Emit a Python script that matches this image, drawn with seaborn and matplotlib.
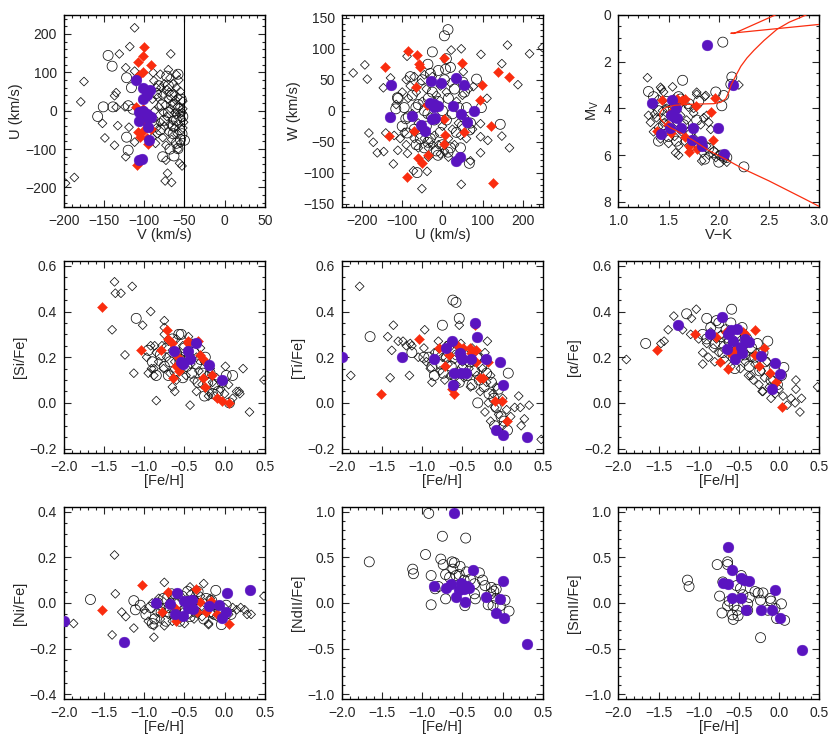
import numpy as np
import pandas as pd
import matplotlib
matplotlib.use("Agg")
import matplotlib.pyplot as plt
import seaborn as sns
from matplotlib.ticker import MultipleLocator, AutoMinorLocator

# ---------------- data ----------------
# panel 1: V vs U (km/s)
uv_diam = [(-112,216),(-118,167),(-131,148),(-67,148),(-123,112),(-112,103),(-89,99),(-70,107),(-60,94),
           (-175,76),(-179,23),(-135,47),(-137,39),(-198,-189),(-187,-174),(-152,-33),(-149,-71),(-137,-90),
           (-133,-39),(-123,-120),(-119,-43),(-112,-82),(-73,-129),(-71,-163),(-74,-183),(-66,-187),(-56,-137),
           (-53,-144),(-135,9),(-124,10),
           (-88,78),(-85,60),(-80,95),(-78,40),(-75,70),(-72,55),(-70,30),(-68,85),(-65,20),(-63,45),(-60,60),
           (-58,35),(-56,10),(-55,50),(-53,-5),(-52,25),(-54,-20),(-57,-35),(-60,-10),(-62,-45),(-65,-25),
           (-67,5),(-70,-55),(-72,-15),(-75,-40),(-77,-70),(-80,-30),(-82,10),(-84,-60),(-86,-85),(-88,-20),
           (-90,30),(-73,-90),(-66,-75),(-59,-60),(-55,-85),(-52,-45),(-58,-100),(-62,-5),(-68,-35),(-74,15),
           (-79,60),(-85,-45),(-90,-70),(-64,70),(-57,80),(-52,5),(-51,-30),(-56,-8),(-61,28),(-69,48),
           (-76,-5),(-83,35),(-87,0)]
uv_circ = [(-145,144),(-140,116),(-122,86),(-116,60),(-151,10),(-158,-15),(-139,10),(-120,13),(-122,-69),
           (-120,-103),(-114,4),(-77,-120),(-63,-118),(-58,-99),(-50,-77),
           (-85,45),(-78,15),(-72,90),(-70,-5),(-66,40),(-64,-60),(-62,15),(-60,-25),(-58,95),(-56,-50),
           (-54,30),(-52,-15),(-55,-75),(-60,-85),(-68,-100),(-75,-25),(-80,-50),(-82,65),(-88,-35),(-70,65),
           (-64,-40),(-58,5),(-53,-60)]
uv_red = [(-100,167),(-102,142),(-108,126),(-92,120),(-102,100),(-106,94),(-110,9),(-102,4),(-108,-56),
          (-102,-52),(-105,-69),(-97,-70),(-91,-47),(-95,-86),(-109,-142),(-104,-20),(-99,-30)]
uv_pur = [(-110,80),(-102,60),(-97,52),(-93,53),(-101,30),(-97,41),(-102,0),(-106,-4),(-97,-9),(-91,-17),
          (-95,-19),(-106,-26),(-95,-43),(-94,-76),(-106,-129),(-103,-127)]

# panel 2: U vs W (km/s)
uw_diam = [(-222,61),(-193,74),(-187,51),(-129,53),(-147,37),(-88,88),(-183,-36),(-172,-51),(-162,-68),
           (-146,-66),(-141,-36),(-122,-86),(-111,-64),(-87,-69),(-72,-97),(-38,-98),(-51,-126),(47,-119),
           (70,-81),(95,-68),(113,-48),(148,-41),(167,-60),(95,-42),(95,-21),(162,106),(217,92),(249,102),
           (188,42),(148,76),(96,91),(47,100),(22,98),(111,20),(-45,58),(52,63),(77,39),
           (-100,30),(-90,50),(-85,20),(-80,40),(-75,-5),(-70,55),(-65,30),(-60,-20),(-55,45),(-50,15),
           (-45,-45),(-40,35),(-35,-60),(-30,-10),(-25,55),(-20,-40),(-15,25),(-10,-55),(-5,40),(0,-25),
           (5,-65),(10,30),(15,-45),(20,45),(25,-30),(30,-55),(35,15),(40,-20),(45,-40),(50,25),(55,-10),
           (60,-45),(-95,-35),(-105,-45),(-90,-55),(-70,-45),(-60,-60),(-50,-30),(-5,-70),(15,-75),
           (-120,-40),(-115,10),(65,35),(75,-30),(-35,-75),(-25,-55)]
uw_circ = [(14,131),(5,121),(-25,95),(10,84),(-36,75),(8,67),(85,51),(51,46),(-112,21),(-116,3),(-66,5),
           (-91,-13),(-36,-5),(97,5),(144,-22),(68,-31),(67,-85),(-63,-100),(-88,-36),(-36,-51),(14,-67),
           (-11,-72),
           (-110,20),(-95,5),(-85,-10),(-75,25),(-70,-30),(-60,10),(-55,-45),(-50,50),(-45,0),(-40,-25),
           (-35,20),(-30,-45),(-25,30),(-20,-15),(-15,-65),(-10,15),(-5,-35),(0,0),(5,50),(10,-15),(15,20),
           (20,-60),(25,-5),(30,35),(35,-35),(40,5),(45,-60),(50,-25),(55,30),(60,5),(-65,-55),(-45,-60),
           (-30,60),(0,-55),(20,70),(-10,65),(70,-20),(-80,55),(-100,-25)]
uw_red = [(-86,97),(-62,90),(-58,76),(-55,71),(-143,71),(5,85),(50,77),(139,63),(166,54),(99,42),(-66,39),
          (94,17),(-38,9),(4,-14),(120,-24),(-70,-32),(54,-35),(7,-39),(-133,-41),(3,-53),(-35,-71),
          (-60,-77),(-52,-85),(-89,-107),(125,-117)]
uw_pur = [(-128,41),(-131,-10),(-76,-8),(-28,48),(-3,45),(33,53),(54,42),(-31,12),(-20,11),(-11,8),
          (-22,6),(26,8),(79,0),(47,-5),(61,-18),(-27,-14),(-18,-11),(-53,-23),(-43,-32),(45,-75),(34,-81)]

# panel 3: V-K vs M_V
cmd_diam = [(1.30,4.3),(1.32,4.6),(1.35,3.9),(1.35,5.0),(1.38,4.4),(1.40,3.6),(1.40,4.8),(1.42,5.3),
            (1.44,4.1),(1.45,3.3),(1.46,4.6),(1.48,5.0),(1.50,3.8),(1.50,5.5),(1.52,4.3),(1.54,4.9),
            (1.55,3.6),(1.56,5.2),(1.58,4.6),(1.60,3.9),(1.60,5.6),(1.62,4.3),(1.63,5.0),(1.65,3.7),
            (1.66,5.4),(1.68,4.5),(1.70,3.95),(1.70,5.1),(1.72,5.7),(1.75,4.2),(1.76,5.3),(1.78,3.4),
            (1.80,5.6),(1.82,4.7),(1.84,5.9),(1.86,3.5),(1.88,5.6),(1.90,6.0),(1.92,4.9),(1.95,5.8),
            (1.97,6.1),(2.00,6.0),(2.05,6.2),(2.08,6.3),(1.60,6.0),(1.57,5.9),(1.83,6.25),(1.29,2.69),
            (1.42,3.1),(1.54,3.08),(1.43,3.17),(1.78,3.31),(2.20,3.0),(1.48,4.0),(1.36,4.25),(1.45,4.45),
            (1.75,4.0),(1.85,4.4),(1.90,4.6),(1.88,4.3),(1.87,3.45)]
cmd_circ = [(1.30,3.28),(1.64,2.8),(2.04,1.17),(2.12,2.97),(2.13,2.66),(2.05,3.45),(2.03,3.89),(2.25,6.5),
            (1.86,6.17),(2.02,6.0),(2.05,6.05),(2.08,6.1),(1.35,3.5),(1.40,4.1),(1.45,4.7),(1.50,5.2),
            (1.55,4.0),(1.58,5.4),(1.62,3.6),(1.65,4.7),(1.70,3.8),(1.72,5.0),(1.78,4.5),(1.80,3.7),
            (1.95,5.9),(1.90,5.7),(2.00,6.3),(1.40,5.4),(1.60,3.5),(1.48,3.7),(1.97,3.3)]
cmd_red = [(1.43,3.63),(1.58,3.59),(1.63,3.66),(1.66,3.62),(1.96,3.56),(1.77,3.9),(1.92,4.17),(1.38,4.97),
           (1.49,4.69),(1.52,5.07),(1.66,5.21),(1.70,5.59),(1.70,5.88),(1.78,5.72),(1.94,5.35),(1.52,4.14)]
cmd_pur = [(1.88,1.28),(2.14,3.0),(1.34,3.75),(1.53,3.63),(1.57,4.0),(1.55,4.35),(1.58,4.41),(1.52,4.28),
           (1.51,4.83),(1.42,5.1),(1.62,4.83),(1.74,4.83),(1.73,5.35),(1.82,5.41),(1.83,5.59),(1.99,4.83),
           (2.05,5.96)]
iso_vk = [3.05,2.85,2.50,2.25,2.08,1.90,1.75,1.62,1.52,1.46,1.42,1.41,1.43,1.48,1.56,1.68,1.85,1.95,
          2.02,2.07,2.10,2.12,2.17,2.22,2.28,2.35,2.45,2.58,2.70,2.80,2.90]
iso_mv = [8.30,7.86,7.10,6.60,6.20,5.80,5.38,5.05,4.83,4.65,4.45,4.25,4.08,3.95,3.87,3.83,3.81,3.80,
          3.74,3.59,3.30,3.03,2.60,2.20,1.85,1.52,1.10,0.62,0.32,0.14,-0.05]
hb_vk = [3.10,2.12,2.15,2.62]
hb_mv = [0.37,0.79,0.80,-0.10]

# panel 4: [Fe/H] vs [Si/Fe]
si_diam = [(-1.37,0.53),(-1.36,0.48),(-1.29,0.48),(-1.15,0.51),(-1.40,0.32),(-0.92,0.40),(-1.02,0.34),
           (-1.24,0.21),(-1.13,0.13),(-0.75,0.36),(-0.75,0.33),(-0.87,0.25),(-0.91,0.15),(-0.88,0.12),
           (-0.85,0.01),(-0.62,0.05),(-0.43,-0.01),(0.23,0.15),(0.18,0.05),(0.19,0.04),(0.31,-0.04),
           (0.49,0.10),(0.01,0.16),(-0.20,0.03),
           (-0.85,0.22),(-0.82,0.18),(-0.78,0.25),(-0.76,0.15),(-0.72,0.20),(-0.70,0.27),(-0.68,0.13),
           (-0.65,0.23),(-0.62,0.18),(-0.60,0.28),(-0.58,0.21),(-0.55,0.15),(-0.52,0.25),(-0.50,0.19),
           (-0.48,0.12),(-0.45,0.22),(-0.42,0.17),(-0.40,0.26),(-0.38,0.10),(-0.35,0.20),(-0.32,0.14),
           (-0.30,0.24),(-0.28,0.08),(-0.25,0.18),(-0.22,0.12),(-0.20,0.05),(-0.18,0.15),(-0.15,0.09),
           (-0.12,0.03),(-0.10,0.11),(-0.05,0.06),(0.00,0.04),(0.05,0.08),(0.10,0.02),(0.15,0.05),
           (-0.88,0.15),(-0.92,0.25),(-0.95,0.13),(-0.97,0.20),(-0.75,0.30),(-0.65,0.07),(-0.35,0.05),
           (-0.60,0.10),(-0.45,0.29)]
si_circ = [(-0.90,0.18),(-0.85,0.12),(-0.80,0.21),(-0.75,0.16),(-0.72,0.24),(-0.68,0.18),(-0.65,0.28),
           (-0.62,0.14),(-0.60,0.22),(-0.57,0.30),(-0.55,0.19),(-0.52,0.11),(-0.50,0.24),(-0.47,0.16),
           (-0.44,0.20),(-0.41,0.13),(-0.38,0.22),(-0.35,0.17),(-0.33,0.09),(-0.30,0.19),(-0.27,0.13),
           (-0.24,0.20),(-0.21,0.09),(-0.18,0.13),(-0.15,0.04),(-0.12,0.08),(-0.08,0.05),(-0.03,0.09),
           (0.02,0.12),(0.06,0.00),(-0.95,0.23),(-1.10,0.37),(-0.54,0.30),(0.10,0.12),(-0.70,0.12),
           (-0.25,0.03)]
si_red = [(-1.52,0.42),(-1.04,0.23),(-0.72,0.32),(-0.79,0.23),(-0.71,0.28),(-0.66,0.26),(-0.64,0.11),
          (-0.60,0.16),(-0.57,0.14),(-0.46,0.26),(-0.45,0.27),(-0.33,0.27),(-0.30,0.21),(-0.27,0.19),
          (-0.27,0.11),(-0.24,0.07),(-0.16,0.12),(-0.09,0.02),(-0.03,0.01),(0.06,0.00),(-0.58,0.20)]
si_pur = [(-0.63,0.225),(-0.54,0.18),(-0.52,0.17),(-0.45,0.225),(-0.43,0.19),(-0.36,0.26),(-0.20,0.165),
          (-0.03,0.10)]

# panel 5: [Fe/H] vs [Ti/Fe]
ti_diam = [(-1.78,0.51),(-1.89,0.12),(-1.40,0.11),(-1.16,0.12),(-1.43,0.29),(-1.36,0.34),(-1.38,0.23),
           (-1.30,0.27),(-1.24,0.27),(-1.15,0.26),(-1.13,0.25),(-0.97,0.32),(-0.54,0.34),(-0.19,0.27),
           (0.20,0.03),(0.22,-0.02),(0.33,-0.01),(0.48,-0.16),(0.27,-0.07),(0.23,-0.10),
           (-1.20,0.25),(-1.05,0.20),(-0.98,0.24),(-0.95,0.18),(-0.90,0.15),(-0.88,0.09),(-0.85,0.22),
           (-0.80,0.27),(-0.78,0.14),(-0.75,0.20),(-0.72,0.10),(-0.70,0.25),(-0.68,0.17),(-0.65,0.12),
           (-0.62,0.23),(-0.60,0.19),(-0.58,0.08),(-0.55,0.14),(-0.52,0.26),(-0.50,0.18),(-0.48,0.11),
           (-0.45,0.21),(-0.42,0.15),(-0.40,0.07),(-0.38,0.24),(-0.35,0.18),(-0.32,0.12),(-0.30,0.20),
           (-0.28,0.05),(-0.25,0.15),(-0.22,0.22),(-0.20,0.09),(-0.18,0.00),(-0.15,0.12),(-0.12,0.04),
           (-0.10,-0.02),(-0.08,0.07),(-0.05,-0.05),(0.00,0.02),(0.05,-0.03),(0.10,-0.06),(0.15,-0.02),
           (-0.22,-0.04),(-0.15,-0.08),(0.00,-0.10)]
ti_circ = [(-0.92,0.20),(-0.88,0.16),(-0.85,0.12),(-0.80,0.22),(-0.77,0.17),(-0.74,0.13),(-0.70,0.20),
           (-0.67,0.25),(-0.64,0.16),(-0.60,0.12),(-0.57,0.21),(-0.54,0.09),(-0.50,0.15),(-0.47,0.22),
           (-0.44,0.12),(-0.41,0.18),(-0.38,0.08),(-0.35,0.14),(-0.32,0.20),(-0.29,0.10),(-0.26,0.16),
           (-0.23,0.07),(-0.20,0.13),(-0.17,0.04),(-0.14,0.09),(-0.11,0.02),(-0.08,-0.02),(-0.05,0.06),
           (-0.02,-0.06),(0.02,-0.08),(0.06,-0.12),(-0.62,0.45),(-0.58,0.44),(-0.54,0.37),(-0.75,0.34),
           (-1.65,0.29),(-1.13,0.22),(-0.31,0.00),(0.07,0.13),(-0.98,0.20),(-0.10,-0.10)]
ti_red = [(-1.04,0.28),(-1.52,0.04),(-0.79,0.24),(-0.72,0.16),(-0.67,0.21),(-0.63,0.06),(-0.60,0.04),
          (-0.56,0.25),(-0.49,0.24),(-0.41,0.24),(-0.39,0.22),(-0.35,0.34),(-0.33,0.18),(-0.28,0.11),
          (-0.24,0.11),(-0.18,0.18),(-0.10,0.01),(-0.01,0.01),(0.06,-0.08),(-0.33,0.23)]
ti_pur = [(-2.00,0.20),(-1.25,0.20),(-0.85,0.19),(-0.71,0.24),(-0.63,0.27),(-0.62,0.08),(-0.60,0.13),
          (-0.53,0.22),(-0.52,0.20),(-0.50,0.19),(-0.46,0.13),(-0.52,0.13),(-0.35,0.35),(-0.32,0.29),
          (-0.40,0.19),(-0.21,0.19),(-0.03,0.18),(0.00,0.08),(-0.08,-0.12),(0.01,-0.14),(0.30,-0.15)]

# panel 6: [Fe/H] vs [alpha/Fe]
al_diam = [(-1.90,0.19),(-1.47,0.26),(-1.43,0.27),(-1.31,0.38),(-1.38,0.32),(-1.03,0.41),(-1.09,0.37),
           (0.48,0.07),(0.21,0.10),(0.21,0.06),(0.28,0.02),(0.26,-0.04),(-0.21,0.05),
           (-1.20,0.32),(-1.10,0.30),(-1.00,0.28),(-0.95,0.22),(-0.90,0.26),(-0.88,0.20),(-0.85,0.31),
           (-0.82,0.24),(-0.80,0.18),(-0.78,0.28),(-0.75,0.22),(-0.72,0.30),(-0.70,0.25),(-0.68,0.19),
           (-0.65,0.28),(-0.62,0.23),(-0.60,0.16),(-0.58,0.26),(-0.55,0.20),(-0.52,0.30),(-0.50,0.24),
           (-0.48,0.15),(-0.45,0.22),(-0.42,0.18),(-0.40,0.26),(-0.38,0.12),(-0.35,0.20),(-0.32,0.10),
           (-0.30,0.17),(-0.28,0.22),(-0.25,0.08),(-0.22,0.14),(-0.20,0.05),(-0.18,0.11),(-0.15,0.18),
           (-0.12,0.07),(-0.10,0.02),(-0.08,0.10),(-0.05,0.04),(0.00,0.06),(0.05,0.03),(0.10,-0.01),
           (0.15,0.02),(0.20,0.00),(-0.95,0.17),(-0.35,0.12)]
al_circ = [(-0.95,0.30),(-0.90,0.28),(-0.85,0.33),(-0.80,0.26),(-0.78,0.36),(-0.75,0.35),(-0.72,0.29),
           (-0.70,0.22),(-0.66,0.32),(-0.62,0.27),(-0.60,0.35),(-0.57,0.20),(-0.54,0.29),(-0.50,0.25),
           (-0.46,0.33),(-0.43,0.21),(-0.40,0.28),(-0.37,0.16),(-0.34,0.24),(-0.30,0.20),(-0.27,0.26),
           (-0.24,0.14),(-0.20,0.22),(-0.17,0.18),(-0.14,0.27),(-0.10,0.10),(-0.06,0.15),(-0.02,0.08),
           (0.03,0.12),(0.06,0.155),(-0.59,0.41),(-1.66,0.26),(-1.15,0.39),(-0.90,0.37),(-0.55,0.15)]
al_red = [(-1.52,0.23),(-1.05,0.30),(-0.79,0.29),(-0.73,0.18),(-0.64,0.15),(-0.66,0.31),(-0.55,0.23),
          (-0.45,0.31),(-0.42,0.30),(-0.30,0.32),(-0.30,0.21),(-0.25,0.16),(-0.19,0.24),(-0.11,0.13),
          (-0.04,0.09),(0.04,-0.02),(-0.58,0.21)]
al_pur = [(-1.26,0.34),(-0.86,0.30),(-0.71,0.375),(-0.65,0.235),(-0.64,0.30),(-0.60,0.32),(-0.57,0.27),
          (-0.55,0.19),(-0.52,0.325),(-0.47,0.245),(-0.46,0.22),(-0.42,0.28),(-0.38,0.265),(-0.22,0.205),
          (-0.05,0.175),(0.01,0.125),(-0.09,0.06)]

# panel 7: [Fe/H] vs [Ni/Fe]
ni_diam = [(-1.37,0.21),(-1.36,0.04),(-1.40,-0.14),(-1.88,-0.09),(-1.28,-0.04),(-1.23,-0.06),
           (-1.13,-0.11),(-0.88,-0.15),(-0.75,0.09),(-0.43,0.07),(-0.26,0.085),(0.49,0.03),(0.33,-0.05),
           (-0.20,-0.095),
           (-1.00,-0.03),(-0.95,-0.08),(-0.90,0.00),(-0.88,-0.10),(-0.85,-0.04),(-0.82,0.02),
           (-0.80,-0.07),(-0.78,-0.02),(-0.75,-0.10),(-0.72,0.03),(-0.70,-0.05),(-0.68,0.00),
           (-0.65,-0.08),(-0.62,0.03),(-0.60,-0.03),(-0.58,-0.07),(-0.55,0.02),(-0.52,-0.04),
           (-0.50,-0.09),(-0.48,0.00),(-0.45,-0.05),(-0.42,0.04),(-0.40,-0.02),(-0.38,-0.07),(-0.35,0.01),
           (-0.32,-0.04),(-0.30,0.03),(-0.28,-0.06),(-0.25,0.00),(-0.22,-0.03),(-0.20,-0.09),(-0.18,0.02),
           (-0.15,-0.05),(-0.12,-0.01),(-0.10,-0.06),(-0.05,-0.03),(0.00,-0.02),(0.05,-0.05),(0.10,-0.02),
           (0.15,-0.03),(0.20,-0.02),(0.25,-0.03),(0.28,-0.05)]
ni_circ = [(-1.05,-0.01),(-0.98,-0.05),(-0.92,-0.02),(-0.87,-0.07),(-0.83,0.00),(-0.79,-0.04),
           (-0.76,0.02),(-0.73,-0.08),(-0.69,-0.02),(-0.66,0.04),(-0.63,-0.05),(-0.59,0.00),(-0.56,-0.08),
           (-0.53,0.03),(-0.49,-0.03),(-0.46,0.05),(-0.43,-0.06),(-0.39,0.01),(-0.36,-0.04),(-0.33,0.05),
           (-0.29,-0.02),(-0.26,-0.07),(-0.23,0.02),(-0.19,-0.04),(-0.16,0.01),(-0.13,-0.05),(-0.11,0.055),
           (-0.07,-0.02),(-0.04,-0.095),(0.02,-0.01),(0.08,-0.05),(-1.67,0.015),(-1.13,0.01),(-1.11,-0.03),
           (-0.90,-0.09)]
ni_red = [(-1.52,-0.03),(-1.03,0.08),(-0.78,-0.04),(-0.71,0.05),(-0.60,-0.08),(-0.35,0.06),(-0.30,0.005),
          (-0.34,-0.04),(-0.23,-0.04),(-0.17,0.01),(-0.09,-0.05),(0.06,-0.09),(-0.62,-0.02)]
ni_pur = [(-2.00,-0.08),(-1.25,-0.17),(-0.85,0.00),(-0.68,-0.005),(-0.62,-0.05),(-0.59,0.045),
          (-0.52,-0.055),(-0.50,0.01),(-0.45,0.01),(-0.41,0.015),(-0.39,-0.025),(-0.45,-0.02),
          (-0.20,-0.015),(-0.07,-0.01),(-0.03,-0.065),(0.02,-0.04),(0.03,0.045),(0.31,0.055)]

# panel 8: [Fe/H] vs [NdII/Fe]
nd_circ = [(-0.92,0.98),(-0.75,0.73),(-0.46,0.71),(-1.66,0.45),(-0.96,0.53),(-1.12,0.37),(-1.11,0.32),
           (-0.89,0.30),(-0.89,-0.02),(-0.77,0.48),(-0.74,0.42),(-0.71,0.31),(-0.71,0.045),(-0.63,0.45),
           (-0.60,0.44),(-0.62,0.37),(-0.53,0.40),(-0.54,0.31),(-0.48,0.25),(-0.47,-0.03),(-0.35,0.10),
           (-0.34,0.045),(-0.29,0.33),(-0.25,0.25),(-0.22,0.19),(-0.18,-0.02),(-0.14,0.17),(-0.11,0.13),
           (-0.08,0.15),(-0.08,0.05),(-0.03,-0.03),(0.03,0.03),(0.08,-0.09),(-0.12,-0.03),(-0.84,0.155),
           (-0.80,0.18),(-0.58,0.30),(-0.35,0.21),(-0.40,0.26),(-0.66,0.28),(-0.45,0.34),(-0.15,0.10)]
nd_pur = [(-0.60,0.98),(-0.86,0.18),(-0.70,0.16),(-0.64,0.21),(-0.58,0.06),(-0.54,0.14),(-0.52,0.22),
          (-0.48,0.155),(-0.44,0.19),(-0.42,0.16),(-0.47,0.01),(-0.37,0.36),(-0.21,0.07),(-0.03,0.045),
          (0.00,0.24),(-0.08,-0.11),(0.02,-0.17),(0.30,-0.45)]

# panel 9: [Fe/H] vs [SmII/Fe]
sm_circ = [(-1.14,0.25),(-1.12,0.18),(-0.77,0.42),(-0.74,0.075),(-0.71,-0.11),(-0.64,0.45),(-0.64,0.42),
           (-0.70,0.23),(-0.62,0.02),(-0.64,-0.03),(-0.58,-0.13),(-0.57,-0.18),(-0.56,-0.03),(-0.52,-0.08),
           (-0.51,-0.14),(-0.47,0.30),(-0.53,0.19),(-0.48,0.16),(-0.45,0.09),(-0.39,-0.01),(-0.39,-0.08),
           (-0.37,0.06),(-0.30,0.125),(-0.26,0.11),(-0.20,0.11),(-0.23,0.03),(-0.11,0.05),(-0.10,0.02),
           (-0.05,-0.06),(0.03,-0.01),(-0.03,-0.17),(0.07,-0.19),(-0.23,-0.38),(-0.14,-0.08)]
sm_pur = [(-0.64,0.61),(-0.58,0.365),(-0.70,0.22),(-0.64,0.21),(-0.58,0.05),(-0.47,0.05),(-0.47,0.27),
          (-0.43,0.25),(-0.38,0.245),(-0.41,-0.08),(-0.22,-0.075),(-0.09,-0.075),(-0.05,0.14),
          (0.01,-0.16),(0.28,-0.52)]

RED = "#fa2d0f"
PURPLE = "#5a14c0"

sns.set_style("ticks")
plt.rcParams["font.family"] = ["Liberation Sans", "DejaVu Sans"]
plt.rcParams["mathtext.fontset"] = "custom"
plt.rcParams["mathtext.rm"] = "Liberation Sans"
plt.rcParams["mathtext.it"] = "Liberation Sans"
plt.rcParams["axes.linewidth"] = 1.0

fig = plt.figure(figsize=(8.3, 7.38), dpi=100)
lefts = [0.077, 0.412, 0.745]
bottoms = [0.720, 0.386, 0.053]
W, H = 0.242, 0.260
axes = [[fig.add_axes([l, b, W, H]) for l in lefts] for b in bottoms]


def pts(lst):
    return pd.DataFrame(lst, columns=["x", "y"])


def draw(ax, diam=None, circ=None, red=None, pur=None):
    if diam is not None:
        sns.scatterplot(data=pts(diam), x="x", y="y", ax=ax, marker="D", s=20, color="k",
                        facecolor="none", edgecolor="#111111", linewidth=0.55, zorder=2)
    if circ is not None:
        sns.scatterplot(data=pts(circ), x="x", y="y", ax=ax, marker="o", s=52, color="k",
                        facecolor="none", edgecolor="#111111", linewidth=0.55, zorder=2)
    if red is not None:
        sns.scatterplot(data=pts(red), x="x", y="y", ax=ax, marker="D", s=26, color=RED,
                        edgecolor=RED, linewidth=0.3, zorder=3)
    if pur is not None:
        sns.scatterplot(data=pts(pur), x="x", y="y", ax=ax, marker="o", s=60, color=PURPLE,
                        edgecolor=PURPLE, linewidth=0.3, zorder=4)


def style(ax, xlim, ylim, xmaj, ymaj, xlabel, ylabel, xminor=None, yminor=None):
    ax.set_xlim(*xlim)
    ax.set_ylim(*ylim)
    ax.xaxis.set_major_locator(MultipleLocator(xmaj))
    ax.yaxis.set_major_locator(MultipleLocator(ymaj))
    ax.xaxis.set_minor_locator(MultipleLocator(xminor) if xminor else AutoMinorLocator())
    ax.yaxis.set_minor_locator(MultipleLocator(yminor) if yminor else AutoMinorLocator())
    ax.tick_params(which="both", direction="in", top=True, right=True, labelsize=10, width=0.8)
    ax.tick_params(which="major", length=5, pad=5)
    ax.tick_params(which="minor", length=2.5)
    ax.set_xlabel(xlabel, fontsize=10.5, labelpad=0)
    ax.set_ylabel(ylabel, fontsize=10.5, labelpad=2)
    for s in ax.spines.values():
        s.set_visible(True)
        s.set_color("k")


# row 1
ax = axes[0][0]
draw(ax, uv_diam, uv_circ, uv_red, uv_pur)
ax.axvline(-50, color="k", lw=0.8)
style(ax, (-200, 50), (-250, 250), 50, 100, "V (km/s)", "U (km/s)", 10, 20)

ax = axes[0][1]
draw(ax, uw_diam, uw_circ, uw_red, uw_pur)
style(ax, (-250, 250), (-155, 155), 100, 50, "U (km/s)", "W (km/s)", 20, 10)

ax = axes[0][2]
draw(ax, cmd_diam, cmd_circ, cmd_red, cmd_pur)
ax.plot(iso_vk, iso_mv, color=RED, lw=0.9, zorder=5)
ax.plot(hb_vk, hb_mv, color=RED, lw=0.9, zorder=5)
style(ax, (1.0, 3.0), (8.2, 0.0), 0.5, 2, "V\u2212K", r"M$_\mathrm{V}$", 0.1, 0.5)

# row 2
abund_x = (-2.0, 0.5)
ax = axes[1][0]
draw(ax, si_diam, si_circ, si_red, si_pur)
style(ax, abund_x, (-0.22, 0.62), 0.5, 0.2, "[Fe/H]", "[Si/Fe]", 0.1, 0.05)

ax = axes[1][1]
draw(ax, ti_diam, ti_circ, ti_red, ti_pur)
style(ax, abund_x, (-0.22, 0.62), 0.5, 0.2, "[Fe/H]", "[Ti/Fe]", 0.1, 0.05)

ax = axes[1][2]
draw(ax, al_diam, al_circ, al_red, al_pur)
style(ax, abund_x, (-0.22, 0.62), 0.5, 0.2, "[Fe/H]", "[\u03b1/Fe]", 0.1, 0.05)

# row 3
ax = axes[2][0]
draw(ax, ni_diam, ni_circ, ni_red, ni_pur)
style(ax, abund_x, (-0.42, 0.42), 0.5, 0.2, "[Fe/H]", "[Ni/Fe]", 0.1, 0.05)

ax = axes[2][1]
draw(ax, None, nd_circ, None, nd_pur)
style(ax, abund_x, (-1.05, 1.05), 0.5, 0.5, "[Fe/H]", "[NdII/Fe]", 0.1, 0.1)

ax = axes[2][2]
draw(ax, None, sm_circ, None, sm_pur)
style(ax, abund_x, (-1.05, 1.05), 0.5, 0.5, "[Fe/H]", "[SmII/Fe]", 0.1, 0.1)

fig.savefig("out.png", dpi=100)
